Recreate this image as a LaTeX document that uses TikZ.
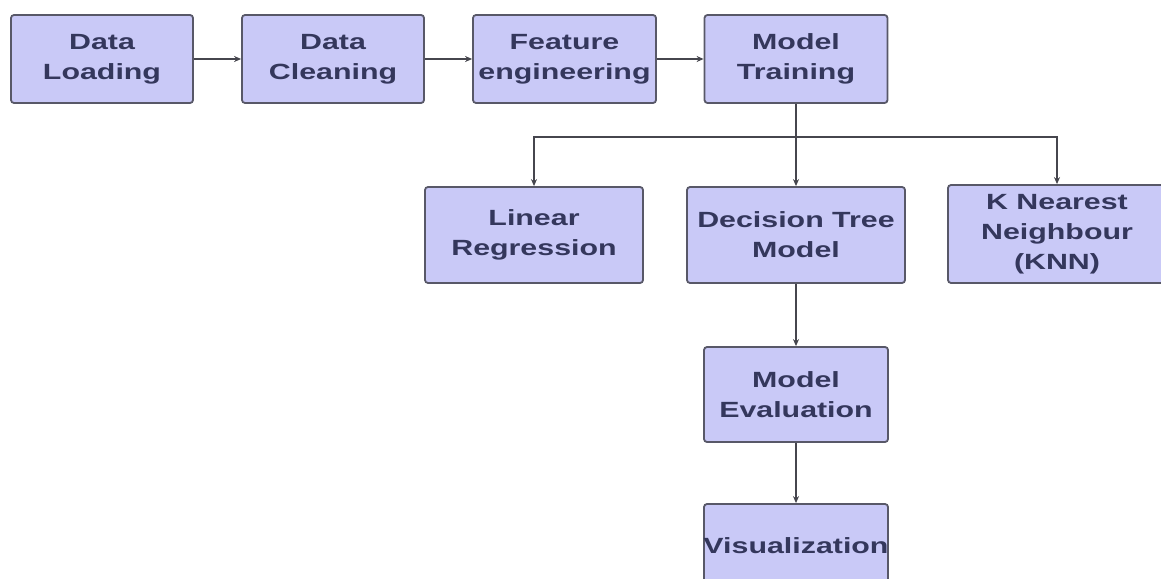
\documentclass[tikz,border=0pt]{standalone}
\usepackage{fontspec}
\newfontfamily\lab{Liberation Sans}[FakeStretch=1.38]
\usetikzlibrary{arrows.meta}
\definecolor{boxfill}{RGB}{201,201,247}
\definecolor{boxline}{RGB}{88,88,104}
\definecolor{boxtext}{RGB}{52,55,92}
\definecolor{wire}{RGB}{70,70,78}
\tikzset{
  stage/.style={draw=boxline, fill=boxfill, line width=1.8pt, rounded corners=3pt,
    inner sep=0pt, align=center, text=boxtext,
    font=\lab\bfseries\fontsize{22}{30}\selectfont},
  lbl/.style={inner sep=0pt, align=center, text=boxtext,
    font=\lab\bfseries\fontsize{22}{30}\selectfont},
  flow/.style={draw=wire, line width=1.3pt, -{Stealth[length=7pt,width=6pt]}},
  plain/.style={draw=wire, line width=1.3pt}
}
\begin{document}
\begin{tikzpicture}[x=1pt,y=-1pt]
\useasboundingbox (0,0) rectangle (1161,578);
\fill[white] (0,0) rectangle (1161,578);
\clip (0,0) rectangle (1161,578);

% pipeline row
\node[stage, minimum width=182pt, minimum height=88pt] (load)  at (102,59)   {Data\\Loading};
\node[stage, minimum width=182pt, minimum height=88pt] (clean) at (333,59)   {Data\\Cleaning};
\node[stage, minimum width=183pt, minimum height=88pt] (feat)  at (564.5,59) {Feature\\engineering};
\node[stage, minimum width=183pt, minimum height=88pt] (train) at (796,59)   {Model\\Training};

% models
\node[stage, minimum width=218pt, minimum height=96pt] (linreg) at (534,235)  {Linear\\Regression};
\node[stage, minimum width=218pt, minimum height=96pt] (dtree)  at (796,235)  {Decision Tree\\Model};
\node[stage, minimum width=218pt, minimum height=98pt] (knn)    at (1057,234) {K Nearest\\Neighbour\\(KNN)};

% evaluation and output
\node[stage, minimum width=184pt, minimum height=95pt] (eval) at (796,394.5) {Model\\Evaluation};
\node[stage, minimum width=184pt, minimum height=84pt] (vis)  at (796,546)   {};
\begin{scope}
  % the label runs past the right border of its box and is cut there
  \clip (600,480) rectangle (vis.east |- vis.south);
  \node[lbl] (vislabel) at (796,546) {Visualization};
\end{scope}

% connectors
\draw[flow] (load) -- (clean);
\draw[flow] (clean) -- (feat);
\draw[flow] (feat) -- (train);

\coordinate (split) at (796,137);
\draw[flow] (train.south) -- (dtree.north);
\draw[flow] (split) -| (linreg.north);
\draw[flow] (split) -| (knn.north);

\draw[flow] (dtree.south) -- (eval.north);
\draw[flow] (eval.south) -- (vis.north);
\end{tikzpicture}
\end{document}
